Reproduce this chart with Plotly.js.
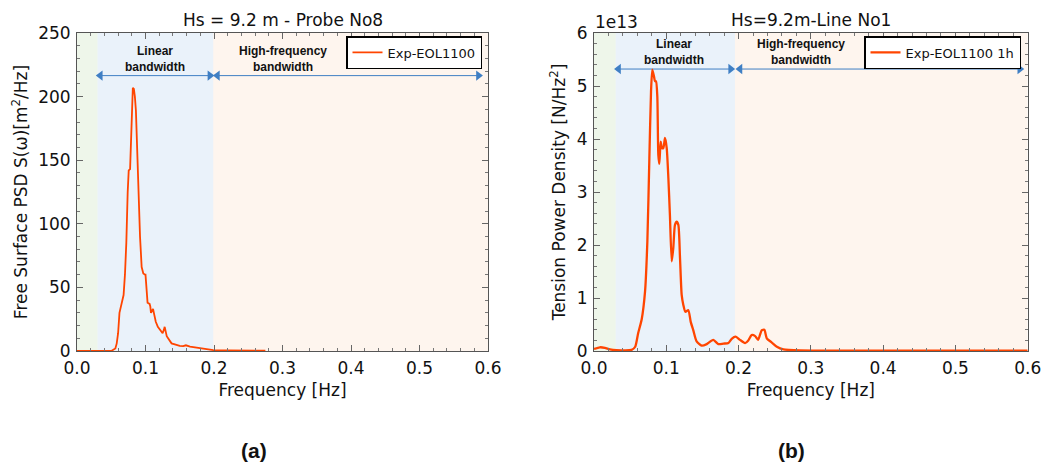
<!DOCTYPE html>
<html>
<head>
<meta charset="utf-8">
<script src="https://cdn.plot.ly/plotly-3.0.1.min.js"></script>
<style>html,body{margin:0;padding:0;background:#fff;}#chart{width:1048px;height:464px;}</style>
</head>
<body>
<div id="chart"></div>
<script>
// ---- Data: (a) Free surface PSD, Probe No8 ----
const freqA = [0, 0.05, 0.053, 0.056, 0.058, 0.060, 0.062, 0.065, 0.068, 0.070, 0.072, 0.074, 0.0755, 0.0775, 0.0785, 0.0805, 0.0815, 0.083, 0.0845, 0.086, 0.088, 0.0895, 0.092, 0.0944, 0.0968, 0.0993, 0.100, 0.103, 0.106, 0.107, 0.108, 0.110, 0.111, 0.113, 0.115, 0.118, 0.121, 0.125, 0.127, 0.128, 0.131, 0.134, 0.138, 0.144, 0.150, 0.155, 0.159, 0.165, 0.172, 0.180, 0.190, 0.199, 0.22, 0.25, 0.275];
const psdA  = [0, 0, 1, 2, 6, 14, 30, 37, 44, 60, 85, 125, 142, 143, 160, 200, 207, 206, 200, 189, 155, 124, 90, 66, 61, 60, 60, 38, 37, 35, 30, 32, 33, 28, 23, 19, 16.5, 14, 17, 19, 11.6, 9, 6, 5, 4, 3.8, 4.5, 3.5, 3, 2, 1.2, 0.7, 0.4, 0.3, 0.2];

// ---- Data: (b) Tension power density, Line No1 (units of 1e13 N/Hz^2) ----
const freqB = [0, 0.008, 0.015, 0.022, 0.031, 0.052, 0.057, 0.061, 0.066, 0.0706, 0.0738, 0.0766, 0.0789, 0.0807, 0.083, 0.0844, 0.0858, 0.0876, 0.089, 0.0904, 0.0922, 0.094, 0.0959, 0.0982, 0.1006, 0.1029, 0.105, 0.1075, 0.1097, 0.112, 0.1144, 0.1167, 0.119, 0.1213, 0.1236, 0.1264, 0.1305, 0.1338, 0.1374, 0.142, 0.149, 0.156, 0.165, 0.172, 0.179, 0.186, 0.1905, 0.196, 0.202, 0.209, 0.2135, 0.218, 0.223, 0.227, 0.232, 0.2357, 0.239, 0.246, 0.253, 0.262, 0.285, 0.4, 0.6];
const tensionB = [0.04, 0.07, 0.06, 0.03, 0.015, 0.02, 0.08, 0.33, 0.6, 1.12, 2.06, 3.64, 4.9, 5.31, 5.18, 5.09, 5.09, 4.8, 3.7, 3.53, 3.95, 3.83, 3.83, 4.02, 3.83, 3.26, 2.57, 1.69, 1.94, 2.38, 2.44, 2.38, 1.75, 1.06, 0.87, 0.74, 0.77, 0.55, 0.39, 0.18, 0.1, 0.13, 0.21, 0.13, 0.14, 0.15, 0.23, 0.27, 0.21, 0.15, 0.2, 0.3, 0.28, 0.21, 0.39, 0.4, 0.24, 0.16, 0.08, 0.03, 0.01, 0.005, 0.005];

// ---- Labels ----
const titleA = "Hs = 9.2 m - Probe No8";
const titleB = "Hs=9.2m-Line No1";
const ytitleA = "Free Surface PSD S(ω)[m<sup>2</sup>/Hz]";
const ytitleB = "Tension Power Density [N/Hz<sup>2</sup>]";
const xtitle = "Frequency [Hz]";
const legendA = "Exp-EOL1100";
const legendB = "Exp-EOL1100 1h";
const bandLinear = "Linear<br>bandwidth";
const bandHigh = "High-frequency<br>bandwidth";
const bandEdgesA = [0, 0.030, 0.199, 0.6];
const bandEdgesB = [0, 0.030, 0.195, 0.6];
const ticksB = [0, 1, 2, 3, 4, 5, 6];
const exponentB = "1e13";

const W = 1048, H = 464;
const X = p => p / W, Y = p => 1 - p / H;

const lineColor = '#ff4500';
const axisBase = {
  showline: true, linecolor: '#555', linewidth: 1, mirror: 'allticks',
  ticks: 'inside', ticklen: 6, tickcolor: '#666', tickwidth: 1,
  showgrid: false, zeroline: false,
  tickfont: {family: 'DejaVu Sans', size: 17, color: '#111'},
  ticklabelstandoff: 2
};
const titleFont = {family: 'DejaVu Sans', size: 17, color: '#111'};
const arrowColor = '#3f7fc4';

function arrowTrace(xr, yr, x0, x1, y) {
  return {x: [x0, x1], y: [y, y], xaxis: xr, yaxis: yr, type: 'scatter', mode: 'lines+markers',
    line: {color: arrowColor, width: 1}, showlegend: false, hoverinfo: 'skip',
    marker: {symbol: ['triangle-left', 'triangle-right'], size: 9, color: arrowColor, line: {width: 0}}};
}

const traces = [
  arrowTrace('x', 'y', 0.034, 0.194, 216.5),
  arrowTrace('x', 'y', 0.205, 0.586, 216.5),
  arrowTrace('x2', 'y2', 0.034, 0.189, 5.32),
  arrowTrace('x2', 'y2', 0.202, 0.589, 5.32),
  {x: freqA, y: psdA, type: 'scatter', mode: 'lines', name: legendA,
   line: {color: lineColor, width: 1.8}, xaxis: 'x', yaxis: 'y', legend: 'legend'},
  {x: freqB, y: tensionB, type: 'scatter', mode: 'lines', name: legendB,
   line: {color: lineColor, width: 2.3, shape: 'spline', smoothing: 0.6}, xaxis: 'x2', yaxis: 'y2', legend: 'legend2'}
];

const bandColors = ['rgba(222,238,214,0.5)', 'rgba(214,230,246,0.5)', 'rgba(252,232,218,0.45)'];
const shapes = [];
[[bandEdgesA, 'x', 'y'], [bandEdgesB, 'x2', 'y2']].forEach(([e, xr, yr]) => {
  for (let i = 0; i < 3; i++) {
    shapes.push({type: 'rect', xref: xr, yref: yr + ' domain', x0: e[i], x1: e[i + 1], y0: 0, y1: 1,
      fillcolor: bandColors[i], line: {width: 0}, layer: 'below'});
  }
});

const bandFont = {family: 'Liberation Sans, Arial', size: 12, color: '#111'};
function bandText(xr, yr, x, y, t) {
  return {xref: xr, yref: yr, x: x, y: y, text: '<b>' + t + '</b>', showarrow: false,
    font: bandFont, xanchor: 'center', yanchor: 'middle', align: 'center'};
}
const labelFont = {family: 'Liberation Sans, Arial', size: 21, color: '#111'};

const annotations = [
  bandText('x', 'y', 0.114, 229.5, bandLinear),
  bandText('x', 'y', 0.300, 229.5, bandHigh),
  bandText('x2', 'y2', 0.111, 5.635, bandLinear),
  bandText('x2', 'y2', 0.287, 5.635, bandHigh),
  {xref: 'paper', yref: 'paper', x: X(282.5), y: Y(20), text: titleA, showarrow: false, font: titleFont, xanchor: 'center', yanchor: 'middle'},
  {xref: 'paper', yref: 'paper', x: X(811), y: Y(20), text: titleB, showarrow: false, font: titleFont, xanchor: 'center', yanchor: 'middle'},
  {xref: 'paper', yref: 'paper', x: X(593), y: Y(22), text: exponentB, showarrow: false, font: titleFont, xanchor: 'left', yanchor: 'middle'},
  {xref: 'paper', yref: 'paper', x: X(254), y: Y(450), text: '<b>(a)</b>', showarrow: false, font: labelFont, xanchor: 'center', yanchor: 'middle'},
  {xref: 'paper', yref: 'paper', x: X(791), y: Y(450), text: '<b>(b)</b>', showarrow: false, font: labelFont, xanchor: 'center', yanchor: 'middle'}
];

const legendBase = {bgcolor: '#fff', bordercolor: '#000', borderwidth: 1.5,
  font: {family: 'DejaVu Sans', size: 13, color: '#111'}, xref: 'paper', yref: 'paper',
  xanchor: 'right', yanchor: 'top', itemwidth: 30, tracegroupgap: 0};

const layout = {
  width: W, height: H, margin: {l: 0, r: 0, t: 0, b: 0},
  paper_bgcolor: '#fff', plot_bgcolor: '#fff', showlegend: true,
  xaxis: Object.assign({}, axisBase, {domain: [X(77), X(488)], range: [0, 0.6], dtick: 0.1, tickformat: '.1f',
    minor: {dtick: 0.02, ticks: 'inside', ticklen: 3, tickcolor: '#777'},
    title: {text: xtitle, font: titleFont, standoff: 6}, anchor: 'y'}),
  yaxis: Object.assign({}, axisBase, {domain: [Y(351), Y(33)], range: [0, 250], dtick: 50,
    minor: {dtick: 10, ticks: 'inside', ticklen: 3, tickcolor: '#777'},
    title: {text: ytitleA, font: titleFont, standoff: 6}, anchor: 'x'}),
  xaxis2: Object.assign({}, axisBase, {domain: [X(594), X(1027.7)], range: [0, 0.6], dtick: 0.1, tickformat: '.1f',
    minor: {dtick: 0.02, ticks: 'inside', ticklen: 3, tickcolor: '#777'},
    title: {text: xtitle, font: titleFont, standoff: 6}, anchor: 'y2'}),
  yaxis2: Object.assign({}, axisBase, {domain: [Y(351), Y(33)], range: [0, 6], tickvals: ticksB, ticktext: ticksB.map(String),
    minor: {dtick: 0.2, ticks: 'inside', ticklen: 3, tickcolor: '#777'},
    title: {text: ytitleB, font: titleFont, standoff: 6}, anchor: 'x2'}),
  legend: Object.assign({}, legendBase, {x: X(482), y: Y(36)}),
  legend2: Object.assign({}, legendBase, {x: X(1021), y: Y(36)}),
  shapes: shapes,
  annotations: annotations
};

Plotly.newPlot('chart', traces, layout, {displayModeBar: false, staticPlot: true});
</script>
</body>
</html>
